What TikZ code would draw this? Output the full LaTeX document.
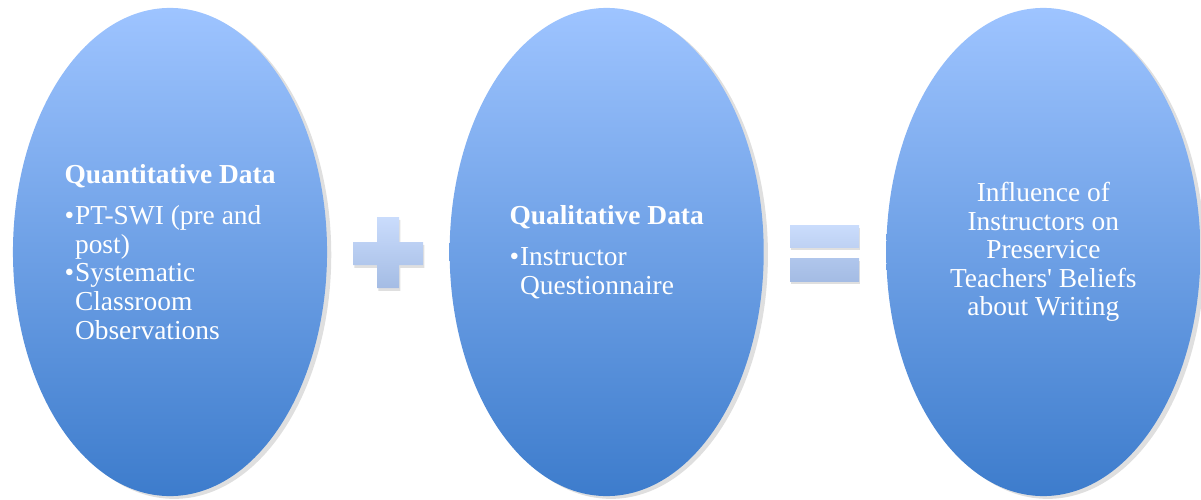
\documentclass[tikz,border=0pt]{standalone}
\usepackage{fontspec}
\setmainfont{Liberation Serif}
\usetikzlibrary{positioning,shapes.geometric,shadows}
\definecolor{ovaltop}{RGB}{158,196,255}
\definecolor{ovalbot}{RGB}{61,124,204}
\definecolor{signtop}{RGB}{202,220,252}
\definecolor{signmida}{RGB}{190,209,243}
\definecolor{signmidb}{RGB}{176,198,236}
\definecolor{signbot}{RGB}{164,188,228}
\newcommand{\bul}{\makebox[7.5pt][l]{\textbullet}}
\newcommand{\hang}{\hspace*{7.5pt}}

\begin{document}
\begin{tikzpicture}[x=0.025cm,y=-0.025cm,
  oval/.style={ellipse,minimum width=7.85cm,minimum height=12.2cm,inner sep=0pt,
    top color=ovaltop,bottom color=ovalbot,text=white,
    font=\fontsize{19.5}{20.3}\selectfont,
    drop shadow={shadow xshift=3pt,shadow yshift=-2pt,opacity=0.25}},
  sign/.style={drop shadow={shadow xshift=1pt,shadow yshift=-2pt,opacity=0.25}}]

  \useasboundingbox (0,0) rectangle (1201,499);

  \node[oval,align=left] (quant) at (170,252)
    {\textbf{Quantitative Data}\\[9pt]
     \bul PT-SWI (pre and\\ \hang post)\\
     \bul Systematic\\ \hang Classroom\\ \hang Observations};

  \node[oval,align=left,right=3.05cm of quant] (qual)
    {\textbf{Qualitative Data}\\[9pt]
     \bul Instructor\\ \hang Questionnaire};

  \node[oval,align=center,right=3.05cm of qual] (infl)
    {Influence of\\Instructors on\\Preservice\\Teachers\textquotesingle{} Beliefs\\about Writing};

  % plus between the first two
  \path[sign,top color=signtop,bottom color=signbot]
    (377,217) -- (399,217) -- (399,242) -- (423,242) -- (423,265) -- (399,265)
    -- (399,288) -- (377,288) -- (377,265) -- (353,265) -- (353,242) -- (377,242) -- cycle;

  % equals before the result
  \path[sign,top color=signtop,bottom color=signmida] (790,225) rectangle (859,247);
  \path[sign,top color=signmidb,bottom color=signbot] (790,258) rectangle (859,281);

\end{tikzpicture}
\end{document}
